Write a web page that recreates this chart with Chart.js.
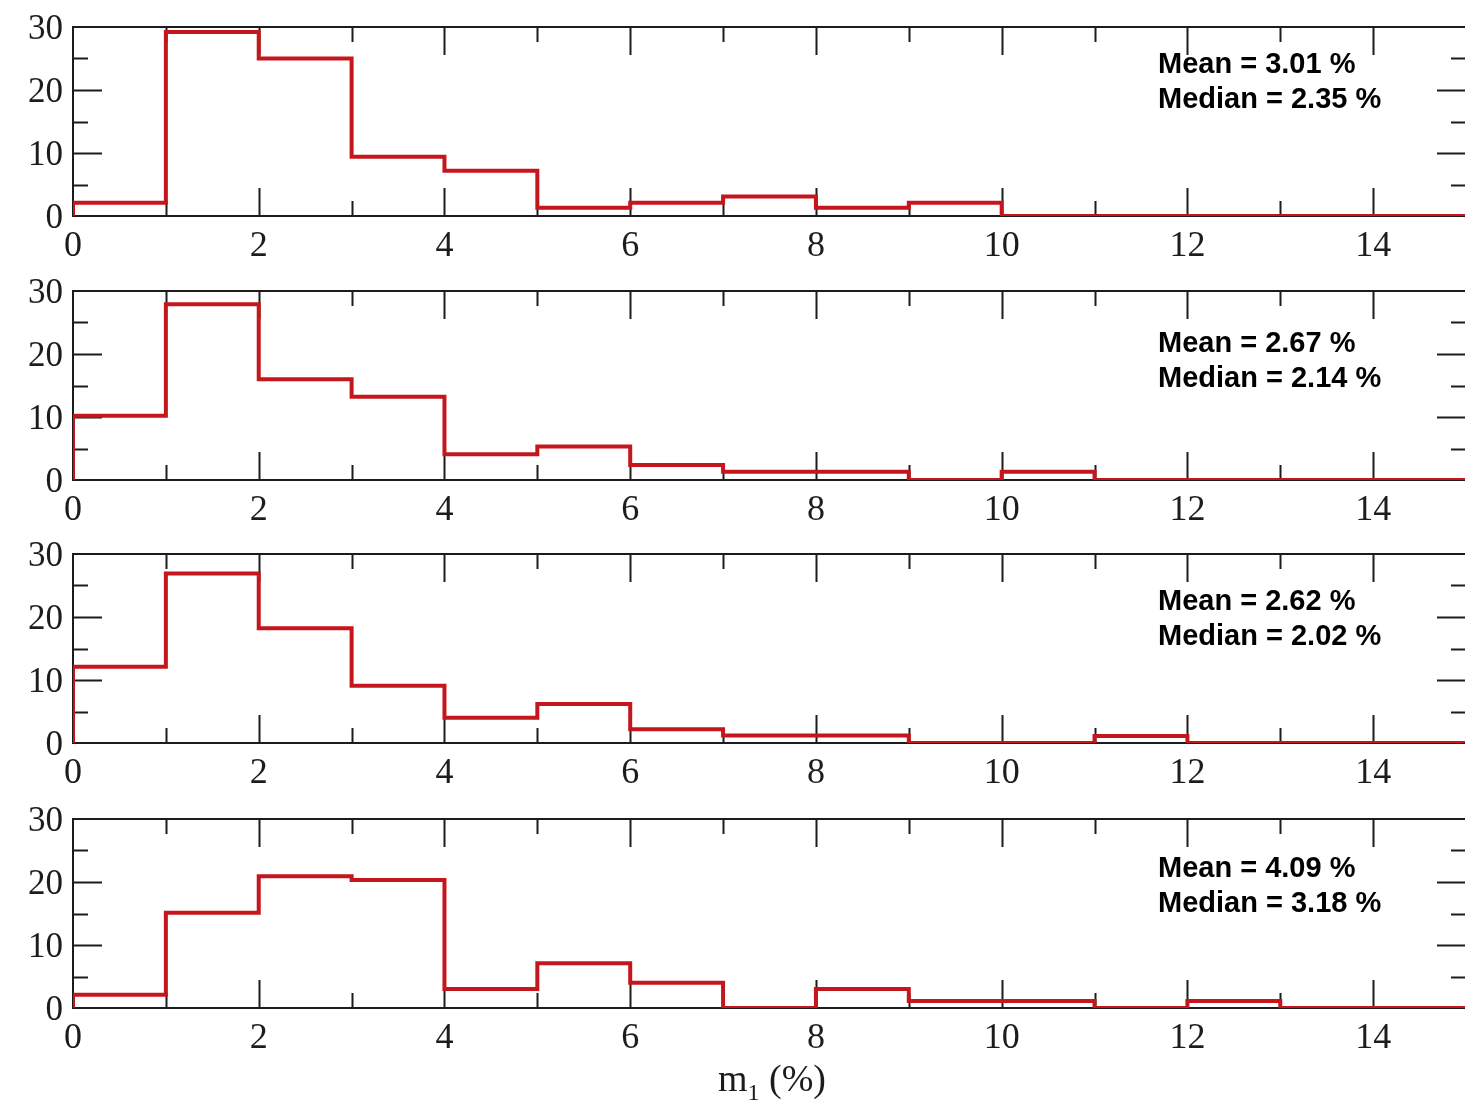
<!DOCTYPE html>
<html>
<head>
<meta charset="utf-8">
<script src="https://cdn.jsdelivr.net/npm/chart.js@4.4.0/dist/chart.umd.min.js"></script>
<style>
    html, body { margin: 0; padding: 0; background: #fff; overflow: hidden; }
    #wrap { position: relative; width: 1465px; height: 1102px; overflow: hidden; }
    .panel { position: absolute; left: 0; }
</style>
</head>
<body>
<div id="wrap">
    <canvas id="hist0" class="panel"></canvas>
    <canvas id="hist1" class="panel"></canvas>
    <canvas id="hist2" class="panel"></canvas>
    <canvas id="hist3" class="panel"></canvas>
</div>
<script>
// bin edges of the m1 histograms (%)
var binEdges = [0, 1, 2, 3, 4, 5, 6, 7, 8, 9, 10, 11, 12, 13, 14, 15];
var xTickLabels = ['0', '2', '4', '6', '8', '10', '12', '14'];
var yTickLabels = ['0', '10', '20', '30'];

// counts per bin, one array per panel
var countsA = [2.1, 29.2, 25.0, 9.4, 7.2, 1.3, 2.1, 3.1, 1.3, 2.1, 0, 0, 0, 0, 0];
var countsB = [10.2, 27.9, 16.0, 13.2, 4.1, 5.3, 2.4, 1.3, 1.3, 0, 1.3, 0, 0, 0, 0];
var countsC = [12.1, 26.9, 18.2, 9.1, 4.0, 6.2, 2.2, 1.2, 1.2, 0, 0, 1.1, 0, 0, 0];
var countsD = [2.1, 15.1, 20.9, 20.3, 3.0, 7.1, 4.0, 0, 3.0, 1.1, 1.1, 0, 1.1, 0, 0];

var meanValues = ['3.01', '2.67', '2.62', '4.09'];
var medianValues = ['2.35', '2.14', '2.02', '3.18'];

var allCounts = [countsA, countsB, countsC, countsD];

// layout
var panelTop = [27, 291, 554, 819];
var plotH = 189;
var PAD_TOP = 22;
var AXIS_H = 50;
var CANVAS_W = 1480;
var noteOffset = [46, 61, 56, 58]; // baseline of "Mean" below the frame top
var RED = '#c5161d';
var INK = '#1c1c1c';

function stepPoints(counts) {
    var pts = [{ x: binEdges[0], y: 0 }];
    counts.forEach(function (c, i) {
        pts.push({ x: binEdges[i], y: c });
    });
    pts.push({ x: binEdges[counts.length], y: counts[counts.length - 1] });
    return pts;
}

// frame + inward tick marks on all four sides
var framePlugin = {
    id: 'frame',
    beforeDatasetsDraw: function (chart) {
        var ctx = chart.ctx, a = chart.chartArea;
        var xs = chart.scales.x, ys = chart.scales.y;
        ctx.save();
        ctx.strokeStyle = INK;
        ctx.lineWidth = 2;
        ctx.strokeRect(a.left, a.top, a.right - a.left, a.bottom - a.top);
        ctx.beginPath();
        xs.ticks.forEach(function (t) {
            if (t.value <= xs.min || t.value >= xs.max) return;
            var px = Math.round(xs.getPixelForValue(t.value)) + 0.5;
            var len = xTickLabels.indexOf(String(t.value)) >= 0 ? 28 : 15;
            ctx.moveTo(px, a.bottom); ctx.lineTo(px, a.bottom - len);
            ctx.moveTo(px, a.top); ctx.lineTo(px, a.top + len);
        });
        ys.ticks.forEach(function (t) {
            if (t.value <= ys.min || t.value >= ys.max) return;
            var py = Math.round(ys.getPixelForValue(t.value)) + 0.5;
            var len = yTickLabels.indexOf(String(t.value)) >= 0 ? 29 : 15;
            ctx.moveTo(a.left, py); ctx.lineTo(a.left + len, py);
            ctx.moveTo(a.right, py); ctx.lineTo(a.right - len, py);
        });
        ctx.stroke();
        ctx.restore();
    },
    afterDraw: function (chart) {
        var ctx = chart.ctx, a = chart.chartArea;
        var k = chart.options.plugins.frame.panel;
        ctx.save();
        ctx.fillStyle = '#000';
        ctx.font = 'bold 29px "Liberation Sans", Arial, sans-serif';
        ctx.textBaseline = 'alphabetic';
        ctx.textAlign = 'left';
        var y0 = a.top + noteOffset[k];
        ctx.fillText('Mean = ' + meanValues[k] + ' %', 1158, y0);
        ctx.fillText('Median = ' + medianValues[k] + ' %', 1158, y0 + 35);

        if (chart.options.plugins.frame.xTitle) {
            // m with subscript 1, then (%)
            var big = '38px "Liberation Serif", "Times New Roman", serif';
            var small = '24px "Liberation Serif", "Times New Roman", serif';
            ctx.fillStyle = INK;
            ctx.font = big;
            var wM = ctx.measureText('m').width;
            var wRest = ctx.measureText(' (%)').width;
            ctx.font = small;
            var wSub = ctx.measureText('1').width;
            var total = wM + wSub + wRest;
            var x = 772 - total / 2;
            var base = a.bottom + 83;
            ctx.font = big;
            ctx.fillText('m', x, base);
            ctx.font = small;
            ctx.fillText('1', x + wM, base + 9);
            ctx.font = big;
            ctx.fillText(' (%)', x + wM + wSub, base);
        }
        ctx.restore();
    }
};

function makePanel(k) {
    var canvas = document.getElementById('hist' + k);
    var last = k === allCounts.length - 1;
    var top = panelTop[k] - PAD_TOP;
    var h = PAD_TOP + plotH + AXIS_H;
    var extraBottom = 0;
    if (last) {
        extraBottom = 1102 - top - h;
        h = 1102 - top;
    }
    canvas.width = CANVAS_W;
    canvas.height = h;
    canvas.style.top = top + 'px';

    return new Chart(canvas.getContext('2d'), {
        type: 'line',
        data: {
            datasets: [{
                data: stepPoints(allCounts[k]),
                stepped: true,
                borderColor: RED,
                borderWidth: 4,
                pointRadius: 0,
                fill: false
            }]
        },
        options: {
            responsive: false,
            animation: false,
            devicePixelRatio: 1,
            layout: { padding: { top: PAD_TOP, right: 14, left: 0, bottom: extraBottom } },
            plugins: {
                legend: { display: false },
                tooltip: { enabled: false },
                frame: { panel: k, xTitle: last }
            },
            scales: {
                x: {
                    type: 'linear',
                    min: binEdges[0],
                    max: binEdges[binEdges.length - 1],
                    border: { display: false },
                    grid: { display: false, drawTicks: false },
                    ticks: {
                        stepSize: 1,
                        autoSkip: false,
                        maxRotation: 0,
                        padding: 9,
                        color: INK,
                        font: { family: '"Liberation Serif", "Times New Roman", serif', size: 36 },
                        callback: function (v) {
                            return xTickLabels.indexOf(String(v)) >= 0 ? String(v) : '';
                        }
                    },
                    afterFit: function (s) {
                        s.height = AXIS_H;
                        s.paddingLeft = 0;
                        s.paddingRight = 0;
                    }
                },
                y: {
                    min: 0,
                    max: 30,
                    border: { display: false },
                    grid: { display: false, drawTicks: false },
                    ticks: {
                        stepSize: 5,
                        autoSkip: false,
                        padding: 10,
                        labelOffset: 3,
                        color: INK,
                        font: { family: '"Liberation Serif", "Times New Roman", serif', size: 35 },
                        callback: function (v) {
                            return yTickLabels.indexOf(String(v)) >= 0 ? String(v) : '';
                        }
                    },
                    afterFit: function (s) {
                        s.width = 73;
                        s.paddingTop = 0;
                        s.paddingBottom = 0;
                    }
                }
            }
        },
        plugins: [framePlugin]
    });
}

for (var k = 0; k < allCounts.length; k++) {
    makePanel(k);
}
</script>
</body>
</html>
